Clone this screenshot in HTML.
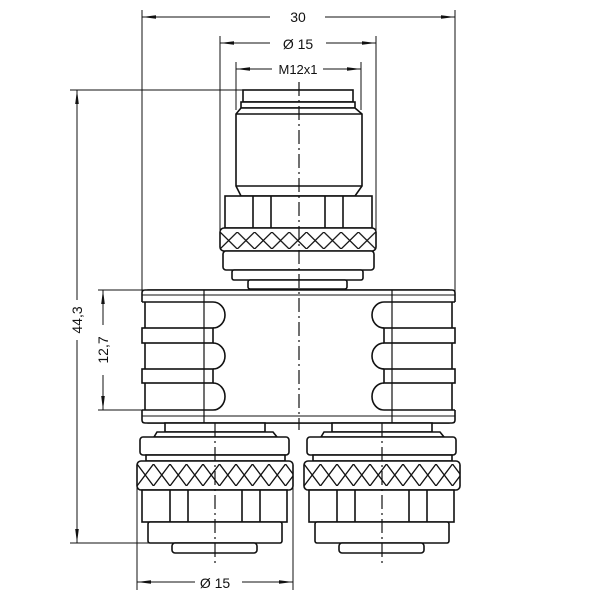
<!DOCTYPE html>
<html><head><meta charset="utf-8"><style>
html,body{margin:0;padding:0;background:#fff;width:600px;height:600px;overflow:hidden}
svg{display:block}
text{font-family:"Liberation Sans",sans-serif;fill:#111}
</style></head><body>
<svg width="600" height="600" viewBox="0 0 600 600" xmlns="http://www.w3.org/2000/svg">
<defs>
<marker id="a" markerWidth="14" markerHeight="6" refX="14" refY="3" orient="auto" markerUnits="userSpaceOnUse">
<path d="M0,1.2 L14,3 L0,4.8 Z" fill="#111"/></marker>
<pattern id="k1" patternUnits="userSpaceOnUse" x="137" y="464" width="16.5" height="22">
<path d="M0,0 L16.5,22 M16.5,0 L0,22" stroke="#111" stroke-width="1.3" fill="none"/></pattern>
<pattern id="k2" patternUnits="userSpaceOnUse" x="304" y="464" width="16.5" height="22">
<path d="M0,0 L16.5,22 M16.5,0 L0,22" stroke="#111" stroke-width="1.3" fill="none"/></pattern>
<pattern id="k0" patternUnits="userSpaceOnUse" x="220" y="232" width="17.3" height="17">
<path d="M0,0 L17.3,17 M17.3,0 L0,17" stroke="#111" stroke-width="1.3" fill="none"/></pattern>
</defs>
<g fill="none" stroke="#111" stroke-width="1">
<line x1="142" y1="10" x2="142" y2="292"/>
<line x1="455" y1="10" x2="455" y2="292"/>
<line x1="270" y1="17" x2="142" y2="17" marker-end="url(#a)"/>
<line x1="325" y1="17" x2="455" y2="17" marker-end="url(#a)"/>
<line x1="220" y1="36" x2="220" y2="232"/>
<line x1="376" y1="36" x2="376" y2="232"/>
<line x1="270" y1="43" x2="220" y2="43" marker-end="url(#a)"/>
<line x1="326" y1="43" x2="376" y2="43" marker-end="url(#a)"/>
<line x1="236" y1="62" x2="236" y2="110"/>
<line x1="361" y1="62" x2="361" y2="110"/>
<line x1="272" y1="69" x2="236" y2="69" marker-end="url(#a)"/>
<line x1="323" y1="69" x2="361" y2="69" marker-end="url(#a)"/>
<line x1="70" y1="90" x2="244" y2="90"/>
<line x1="70" y1="543" x2="172" y2="543"/>
<line x1="77" y1="300" x2="77" y2="90" marker-end="url(#a)"/>
<line x1="77" y1="340" x2="77" y2="543" marker-end="url(#a)"/>
<line x1="98" y1="290" x2="145" y2="290"/>
<line x1="98" y1="410" x2="145" y2="410"/>
<line x1="103" y1="325" x2="103" y2="290" marker-end="url(#a)"/>
<line x1="103" y1="375" x2="103" y2="410" marker-end="url(#a)"/>
<line x1="137" y1="475" x2="137" y2="590"/>
<line x1="293" y1="475" x2="293" y2="590"/>
<line x1="195" y1="582" x2="137" y2="582" marker-end="url(#a)"/>
<line x1="242" y1="582" x2="293" y2="582" marker-end="url(#a)"/>
</g>
<text x="298" y="22" font-size="14" text-anchor="middle">30</text>
<text x="298" y="49" font-size="14" text-anchor="middle">Ø 15</text>
<text x="298" y="74" font-size="13" text-anchor="middle">M12x1</text>
<text x="215" y="588" font-size="14" text-anchor="middle">Ø 15</text>
<text transform="translate(82,320) rotate(-90)" font-size="14" text-anchor="middle">44,3</text>
<text transform="translate(108,350) rotate(-90)" font-size="14" text-anchor="middle">12,7</text>

<g fill="#fff" stroke="#111" stroke-width="1.6">
<rect x="243" y="90" width="110" height="12"/>
<rect x="241" y="102" width="114" height="6"/>
<path d="M241,108 L355,108 L362,114 L362,186 L355,196 L241,196 L236,186 L236,114 Z"/>
<line x1="236" y1="114" x2="362" y2="114"/>
<line x1="236" y1="186" x2="362" y2="186"/>
<rect x="225" y="196" width="147" height="32"/>
<line x1="253" y1="196" x2="253" y2="228"/><line x1="271" y1="196" x2="271" y2="228"/>
<line x1="325" y1="196" x2="325" y2="228"/><line x1="343" y1="196" x2="343" y2="228"/>
<rect x="220" y="228" width="156" height="23" rx="4"/>
<rect x="220" y="232" width="156" height="17" fill="url(#k0)" stroke="none"/>
<rect x="223" y="251" width="151" height="19" rx="3"/>
<rect x="232" y="270" width="131" height="10" rx="2"/>
<rect x="248" y="280" width="99" height="9" rx="2"/>
<!-- body -->
<rect x="145" y="290" width="307" height="133" rx="3"/>
<!-- left bands -->
<path d="M142,302 L142,293 Q142,290 145,290 L452,290 Q455,290 455,293 L455,302"/>
<rect x="142" y="328" width="71" height="15"/>
<rect x="142" y="369" width="71" height="14"/>
<rect x="384" y="328" width="71" height="15"/>
<rect x="384" y="369" width="71" height="14"/>
<path d="M142,410 L142,420 Q142,423 145,423 L452,423 Q455,423 455,420 L455,410"/>
<line x1="142" y1="302" x2="213" y2="302"/>
<line x1="384" y1="302" x2="455" y2="302"/>
<line x1="142" y1="410" x2="213" y2="410"/>
<line x1="384" y1="410" x2="455" y2="410"/>
<g fill="none">
<path d="M213,302 A12,13 0 0 1 213,328"/>
<path d="M213,343 A12,13 0 0 1 213,369"/>
<path d="M213,383 A12,13.5 0 0 1 213,410"/>
<path d="M384,302 A12,13 0 0 0 384,328"/>
<path d="M384,343 A12,13 0 0 0 384,369"/>
<path d="M384,383 A12,13.5 0 0 0 384,410"/>
</g>
<line x1="142" y1="295" x2="455" y2="295" stroke-width="1"/>
<line x1="142" y1="416" x2="455" y2="416" stroke-width="1"/>
<line x1="204" y1="290" x2="204" y2="423" stroke-width="1.2"/>
<line x1="392" y1="290" x2="392" y2="423" stroke-width="1.2"/>
</g>

<g fill="#fff" stroke="#111" stroke-width="1.6">
<g>
<rect x="165" y="423" width="100" height="9"/>
<path d="M154,437 L157,432 L273,432 L277,437 Z"/>
<rect x="140" y="437" width="149" height="18" rx="3"/>
<rect x="146" y="455" width="139" height="6"/>
<rect x="137" y="461" width="156" height="29" rx="4"/>
<rect x="142" y="490" width="145" height="32"/>
<line x1="170" y1="490" x2="170" y2="522"/><line x1="188" y1="490" x2="188" y2="522"/>
<line x1="242" y1="490" x2="242" y2="522"/><line x1="260" y1="490" x2="260" y2="522"/>
<rect x="148" y="522" width="134" height="21" rx="2"/>
<rect x="172" y="543" width="85" height="10" rx="3"/>
</g>
<rect x="137" y="464" width="156" height="22" fill="url(#k1)" stroke="none"/>
<g transform="translate(167,0)">
<rect x="165" y="423" width="100" height="9"/>
<path d="M154,437 L157,432 L273,432 L277,437 Z"/>
<rect x="140" y="437" width="149" height="18" rx="3"/>
<rect x="146" y="455" width="139" height="6"/>
<rect x="137" y="461" width="156" height="29" rx="4"/>
<rect x="142" y="490" width="145" height="32"/>
<line x1="170" y1="490" x2="170" y2="522"/><line x1="188" y1="490" x2="188" y2="522"/>
<line x1="242" y1="490" x2="242" y2="522"/><line x1="260" y1="490" x2="260" y2="522"/>
<rect x="148" y="522" width="134" height="21" rx="2"/>
<rect x="172" y="543" width="85" height="10" rx="3"/>
</g>
<rect x="304" y="464" width="156" height="22" fill="url(#k2)" stroke="none"/>
</g>

<g stroke="#111" stroke-width="1.2" stroke-dasharray="14,4,2,4" fill="none">
<line x1="299" y1="82" x2="299" y2="430"/>
<line x1="215" y1="423" x2="215" y2="565"/>
<line x1="382" y1="423" x2="382" y2="565"/>
</g>
</svg>
</body></html>
